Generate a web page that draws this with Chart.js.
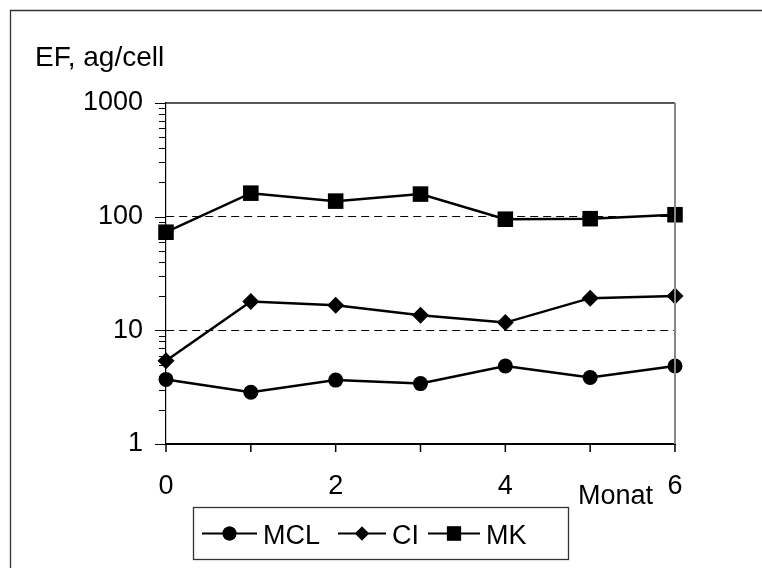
<!DOCTYPE html>
<html>
<head>
<meta charset="utf-8">
<script src="https://cdn.jsdelivr.net/npm/chart.js@4/dist/chart.umd.min.js"></script>
<style>
  html, body { margin: 0; padding: 0; background: #fff; }
  #wrap { width: 762px; height: 568px; }
</style>
</head>
<body>
<div id="wrap"><canvas id="efChart" width="762" height="568"></canvas></div>
<script>
// Daten
const months = [0, 1, 2, 3, 4, 5, 6];
const mclValues = [3.7, 2.85, 3.65, 3.4, 4.85, 3.85, 4.85];
const ciValues = [5.4, 17.9, 16.6, 13.6, 11.7, 19.2, 20.0];
const mkValues = [73, 161, 137, 158, 95, 96, 104];

// Achsenbeschriftungen
const xTickLabels = [0, 2, 4, 6];
const yTickLabels = [1, 10, 100, 1000];
const dashedLines = [10, 100];
const seriesNames = ['MCL', 'CI', 'MK'];
const pointStyles = ['circle', 'rectRot', 'rect'];

const FONT = '"Liberation Sans", Arial, sans-serif';
const FSIZE = 27;

// Nebenstriche der log-Achse: 1..9, 10..90, 100..900, 1000
const yAllTicks = [];
for (let d = 1; d < 1000; d *= 10) {
    for (let k = 1; k < 10; k++) yAllTicks.push(k * d);
}
yAllTicks.push(1000);

// Rahmen, Titel, Striche und Legende
const decorPlugin = {
    id: 'decor',
    afterDraw(chart) {
        const ctx = chart.ctx;
        const area = chart.chartArea;
        const xs = chart.scales.x;
        const ys = chart.scales.y;
        ctx.save();

        // äusserer Rahmen (nur links und oben sichtbar)
        ctx.strokeStyle = '#333';
        ctx.lineWidth = 1.3;
        ctx.beginPath();
        ctx.moveTo(10.5, 568);
        ctx.lineTo(10.5, 10.5);
        ctx.lineTo(762, 10.5);
        ctx.stroke();

        // Plotrahmen oben und rechts
        ctx.strokeStyle = '#222';
        ctx.lineWidth = 1.3;
        ctx.beginPath();
        ctx.moveTo(area.left, area.top);
        ctx.lineTo(area.right, area.top);
        ctx.stroke();
        ctx.strokeStyle = '#888';
        ctx.lineWidth = 2;
        ctx.beginPath();
        ctx.moveTo(area.right, area.top);
        ctx.lineTo(area.right, area.bottom);
        ctx.stroke();

        // Striche y-Achse
        ctx.strokeStyle = '#000';
        ctx.lineWidth = 1.2;
        ctx.beginPath();
        yAllTicks.forEach(v => {
            const y = Math.round(ys.getPixelForValue(v)) + 0.5;
            const len = yTickLabels.includes(v) ? 11 : 7;
            ctx.moveTo(area.left - len, y);
            ctx.lineTo(area.left, y);
        });
        ctx.stroke();

        // Striche x-Achse
        ctx.lineWidth = 1.5;
        ctx.beginPath();
        months.forEach(m => {
            const x = xs.getPixelForValue(m);
            ctx.moveTo(x, area.bottom);
            ctx.lineTo(x, area.bottom + 8);
        });
        ctx.stroke();

        // Titel und Achsentitel
        ctx.fillStyle = '#000';
        ctx.font = (FSIZE + 1) + 'px ' + FONT;
        ctx.textBaseline = 'alphabetic';
        ctx.textAlign = 'left';
        ctx.fillText('EF, ag/cell', 35, 66);
        ctx.font = FSIZE + 'px ' + FONT;
        ctx.textAlign = 'right';
        ctx.fillText('Monat', xs.getPixelForValue(6) - 22, 504);

        // Legende
        const box = { x: 193.5, y: 507.5, w: 375, h: 52 };
        ctx.strokeStyle = '#333';
        ctx.lineWidth = 1.3;
        ctx.strokeRect(box.x, box.y, box.w, box.h);
        const cy = box.y + box.h / 2;
        const items = [
            { x: 202, len: 55, r: 7 },
            { x: 338, len: 48, r: 7 },
            { x: 428, len: 52, r: 10 }
        ];
        items.forEach((it, i) => {
            ctx.strokeStyle = '#000';
            ctx.lineWidth = 2;
            ctx.beginPath();
            ctx.moveTo(it.x, cy);
            ctx.lineTo(it.x + it.len, cy);
            ctx.stroke();
            ctx.fillStyle = '#000';
            Chart.helpers.drawPoint(ctx, { pointStyle: pointStyles[i], radius: it.r, borderWidth: 0 }, it.x + it.len / 2, cy);
            ctx.fill();
            ctx.textAlign = 'left';
            ctx.textBaseline = 'alphabetic';
            ctx.font = FSIZE + 'px ' + FONT;
            ctx.fillText(seriesNames[i], it.x + it.len + 6, cy + 10);
        });

        ctx.restore();
    }
};

function makeDataset(label, values, style, radius) {
    return {
        label: label,
        data: values,
        borderColor: '#000',
        backgroundColor: '#000',
        borderWidth: 2.5,
        pointStyle: style,
        pointRadius: radius,
        pointBorderWidth: 0,
        pointBackgroundColor: '#000',
        tension: 0,
        clip: false
    };
}

new Chart(document.getElementById('efChart'), {
    type: 'line',
    data: {
        labels: months,
        datasets: [
            makeDataset(seriesNames[0], mclValues, pointStyles[0], 7.5),
            makeDataset(seriesNames[1], ciValues, pointStyles[1], 8.5),
            makeDataset(seriesNames[2], mkValues, pointStyles[2], 11)
        ]
    },
    options: {
        responsive: false,
        animation: false,
        devicePixelRatio: 1,
        layout: { padding: { left: 0, top: 103, right: 87, bottom: 44 } },
        plugins: {
            legend: { display: false },
            tooltip: { enabled: false }
        },
        scales: {
            x: {
                type: 'linear',
                min: 0,
                max: 6,
                afterBuildTicks: scale => {
                    scale.ticks = months.map(m => ({ value: m }));
                },
                afterFit: scale => {
                    scale.height = 80;
                    scale.paddingLeft = 0;
                    scale.paddingRight = 0;
                },
                grid: { display: false, drawTicks: false },
                border: { display: true, color: '#000', width: 2 },
                ticks: {
                    padding: 26,
                    maxRotation: 0,
                    autoSkip: false,
                    color: '#000',
                    font: { family: FONT, size: FSIZE },
                    callback: v => xTickLabels.includes(v) ? String(v) : ''
                }
            },
            y: {
                type: 'logarithmic',
                min: 1,
                max: 1000,
                afterBuildTicks: scale => {
                    scale.ticks = yAllTicks.map(v => ({ value: v }));
                },
                afterFit: scale => {
                    scale.width = 166;
                    scale.paddingTop = 0;
                    scale.paddingBottom = 0;
                },
                grid: {
                    drawTicks: false,
                    color: ctx => dashedLines.includes(ctx.tick && ctx.tick.value) ? '#000' : 'rgba(0,0,0,0)',
                    lineWidth: 1
                },
                border: { display: true, color: '#000', width: 1.2, dash: [8, 5] },
                ticks: {
                    padding: 23,
                    autoSkip: false,
                    color: '#000',
                    font: { family: FONT, size: FSIZE },
                    callback: v => yTickLabels.includes(v) ? String(v) : ''
                }
            }
        }
    },
    plugins: [decorPlugin]
});
</script>
</body>
</html>
